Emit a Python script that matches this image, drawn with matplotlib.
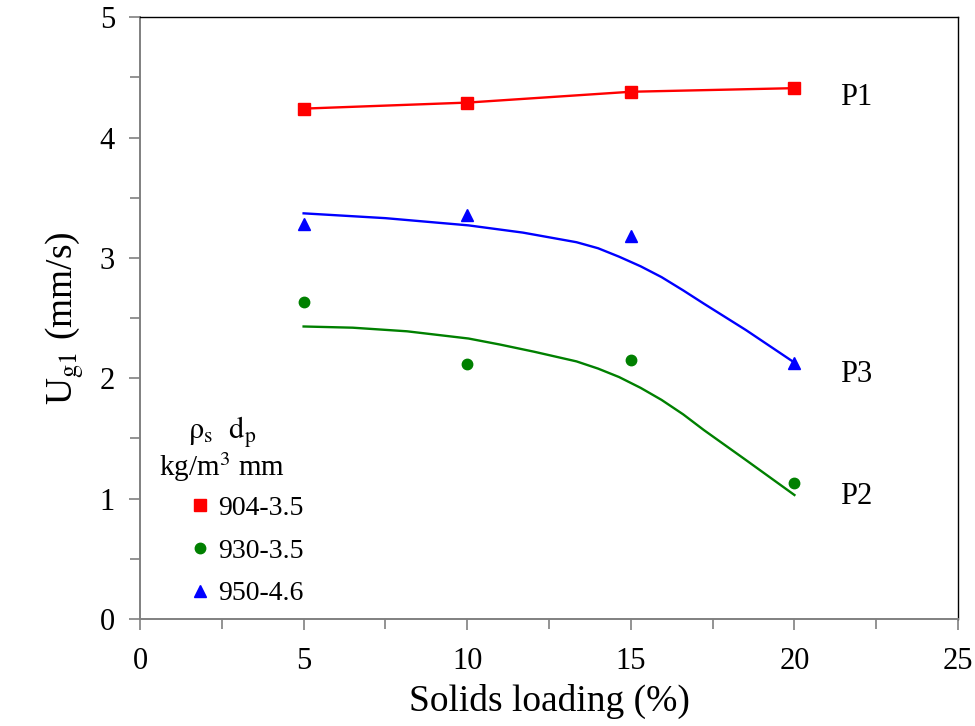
import matplotlib
matplotlib.use("Agg")
import matplotlib.pyplot as plt
from matplotlib.ticker import MultipleLocator

plt.rcParams["font.family"] = ["Liberation Serif", "DejaVu Serif"]
plt.rcParams["mathtext.fontset"] = "stix"

# measured points
loading = [5, 10, 15, 20]
p1_ug = [4.24, 4.29, 4.38, 4.41]
p2_ug = [2.63, 2.12, 2.15, 1.13]
p3_ug = [3.28, 3.36, 3.18, 2.13]

# fitted curves
p2_fit_x = [5, 6.5, 8.16, 10.04, 11, 12.05, 13.34, 14, 14.64, 15.3, 15.94, 16.6, 17.23, 18.52, 20]
p2_fit_y = [2.43, 2.42, 2.39, 2.33, 2.28, 2.22, 2.14, 2.08, 2.01, 1.92, 1.82, 1.70, 1.57, 1.32, 1.03]
p3_fit_x = [5, 7.5, 10.04, 11.7, 13.34, 14, 14.64, 15.3, 15.94, 16.6, 17.23, 18.52, 20]
p3_fit_y = [3.37, 3.33, 3.27, 3.21, 3.13, 3.08, 3.01, 2.93, 2.84, 2.73, 2.62, 2.40, 2.13]

labels = ["904-3.5", "930-3.5", "950-4.6"]
curve_names = ["P1", "P2", "P3"]

fig = plt.figure(figsize=(9.75, 7.26), dpi=100)
ax = fig.add_axes([0.1436, 0.1474, 0.839, 0.829])

red, green, blue = "#ff0000", "#008000", "#0000ff"

ax.plot(loading, p1_ug, color=red, lw=1.7, zorder=2)
ax.plot(p2_fit_x, p2_fit_y, color=green, lw=1.7, zorder=2)
ax.plot(p3_fit_x, p3_fit_y, color=blue, lw=1.7, zorder=2)

ax.plot(loading, p1_ug, "s", color=red, ms=8, label=labels[0], zorder=3)
ax.plot(loading, p2_ug, "o", color=green, ms=7.5, label=labels[1], zorder=3)
ax.plot(loading, p3_ug, "^", color=blue, ms=8, label=labels[2], zorder=3)

ax.text(21.4, 4.33, curve_names[0], fontsize=22, va="center")
ax.text(21.4, 1.02, curve_names[1], fontsize=22, va="center")
ax.text(21.4, 2.03, curve_names[2], fontsize=22, va="center")

ax.set_xlim(0, 25)
ax.set_ylim(0, 5)
ax.xaxis.set_major_locator(MultipleLocator(5))
ax.xaxis.set_minor_locator(MultipleLocator(2.5))
ax.yaxis.set_major_locator(MultipleLocator(1))
ax.yaxis.set_minor_locator(MultipleLocator(0.5))
ax.tick_params(which="both", direction="out", color="#808080", width=1.2)
ax.tick_params(which="major", length=8, labelsize=22)
ax.tick_params(axis="x", which="major", pad=12)
ax.tick_params(axis="y", which="major", pad=10)
ax.tick_params(which="minor", length=7)

for side in ("left", "bottom"):
    ax.spines[side].set_color("#808080")
    ax.spines[side].set_linewidth(1.4)
for side in ("top", "right"):
    ax.spines[side].set_color("black")
    ax.spines[side].set_linewidth(1.0)

ax.set_xlabel("Solids loading (%)", fontsize=27, labelpad=6)
ax.set_ylabel("U$_{\\mathrm{g1}}$ (mm/s)", fontsize=27, labelpad=10)

# legend header
ax.text(2.5, 1.55, "$\\mathrm{\\rho_s}$  $\\mathrm{d_p}$", fontsize=22,
        ha="center", va="center")
ax.text(2.5, 1.26, "kg/m$^3$ mm", fontsize=21, ha="center", va="center")

ax.legend(loc="upper left", bbox_to_anchor=(0.046, 0.228), frameon=False,
          borderpad=0, fontsize=20, handlelength=0.6, handletextpad=0.35,
          labelspacing=0.62)

fig.savefig("out.png", dpi=100)
